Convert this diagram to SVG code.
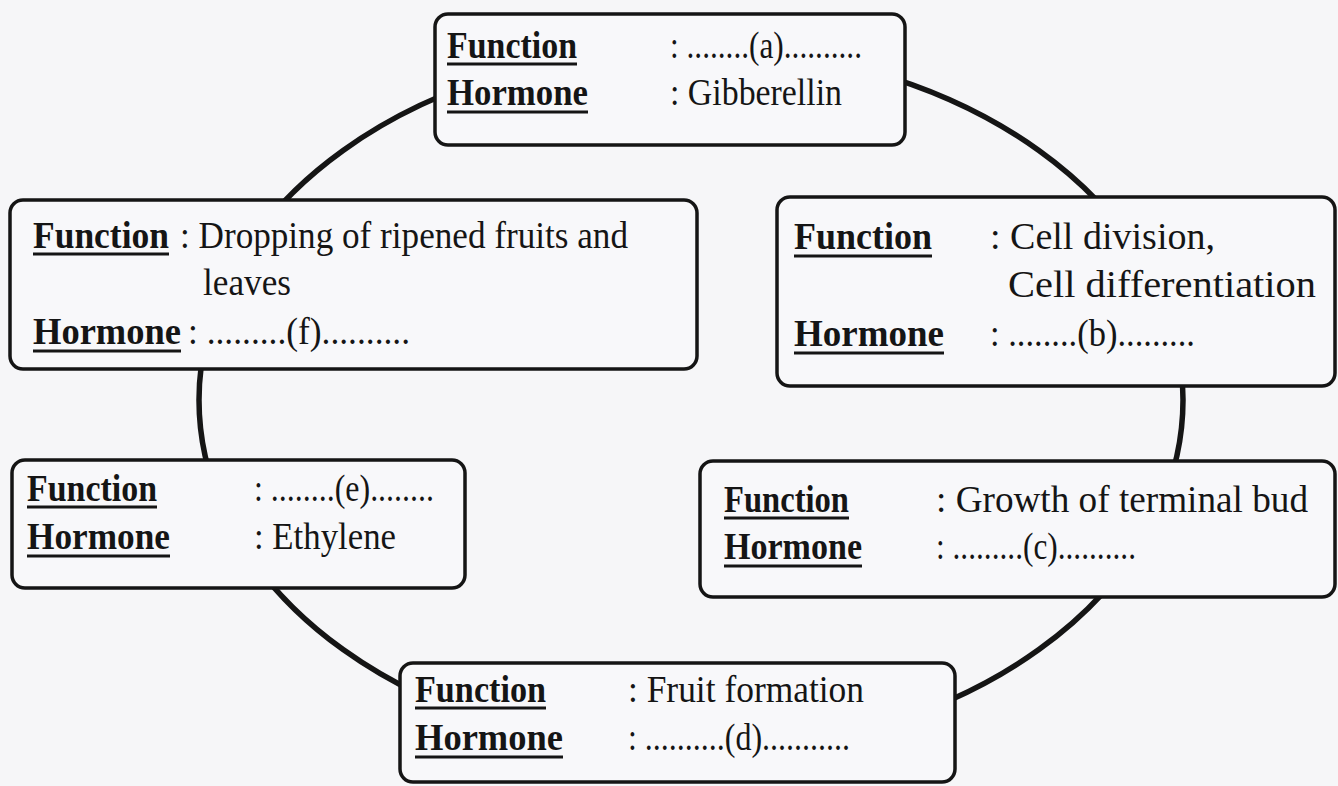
<svg xmlns="http://www.w3.org/2000/svg" width="1338" height="786" viewBox="0 0 1338 786">
<style>
.bg{fill:#f6f6f8}
.box{fill:#f8f8fa;stroke:#151515;stroke-width:3.5}
.ring{fill:none;stroke:#151515;stroke-width:5.5}
.ul{stroke:#151515;stroke-width:3}
text{font-family:"Liberation Serif","Times New Roman",serif;font-size:37px;fill:#151515}
.lbl{font-weight:bold}
</style>
<rect class="bg" x="0" y="0" width="1338" height="786"/>
<g id="connectors">
<ellipse class="ring" cx="691" cy="400" rx="492" ry="353"/>
</g>
<g id="node-a">
<rect class="box" x="435" y="14" width="470" height="131" rx="13"/>
<text class="lbl" x="447" y="58" textLength="130" lengthAdjust="spacingAndGlyphs">Function</text>
<line class="ul" x1="447" y1="64" x2="577" y2="64"/>
<text class="lbl" x="447" y="105" textLength="141" lengthAdjust="spacingAndGlyphs">Hormone</text>
<line class="ul" x1="447" y1="112" x2="588" y2="112"/>
<text x="670" y="58" textLength="192" lengthAdjust="spacingAndGlyphs">: ........(a)..........</text>
<text x="670" y="105" textLength="172" lengthAdjust="spacingAndGlyphs">: Gibberellin</text>
</g>
<g id="node-b">
<rect class="box" x="777" y="197" width="558" height="189" rx="13"/>
<text class="lbl" x="794" y="249" textLength="138" lengthAdjust="spacingAndGlyphs">Function</text>
<line class="ul" x1="794" y1="256" x2="932" y2="256"/>
<text class="lbl" x="794" y="346" textLength="150" lengthAdjust="spacingAndGlyphs">Hormone</text>
<line class="ul" x1="794" y1="353" x2="944" y2="353"/>
<text x="990" y="249" textLength="225" lengthAdjust="spacingAndGlyphs">: Cell division,</text>
<text x="1008" y="297" textLength="308" lengthAdjust="spacingAndGlyphs">Cell differentiation</text>
<text x="990" y="346" textLength="205" lengthAdjust="spacingAndGlyphs">: ........(b).........</text>
</g>
<g id="node-c">
<rect class="box" x="700" y="461" width="635" height="136" rx="13"/>
<text class="lbl" x="724" y="512" textLength="125" lengthAdjust="spacingAndGlyphs">Function</text>
<line class="ul" x1="724" y1="518" x2="849" y2="518"/>
<text class="lbl" x="724" y="559" textLength="138" lengthAdjust="spacingAndGlyphs">Hormone</text>
<line class="ul" x1="724" y1="566" x2="862" y2="566"/>
<text x="936" y="512" textLength="372" lengthAdjust="spacingAndGlyphs">: Growth of terminal bud</text>
<text x="936" y="559" textLength="200" lengthAdjust="spacingAndGlyphs">: .........(c)..........</text>
</g>
<g id="node-d">
<rect class="box" x="400" y="663" width="555" height="119" rx="13"/>
<text class="lbl" x="415" y="702" textLength="131" lengthAdjust="spacingAndGlyphs">Function</text>
<line class="ul" x1="415" y1="708" x2="546" y2="708"/>
<text class="lbl" x="415" y="750" textLength="148" lengthAdjust="spacingAndGlyphs">Hormone</text>
<line class="ul" x1="415" y1="757" x2="563" y2="757"/>
<text x="628" y="702" textLength="236" lengthAdjust="spacingAndGlyphs">: Fruit formation</text>
<text x="628" y="750" textLength="222" lengthAdjust="spacingAndGlyphs">: ..........(d)...........</text>
</g>
<g id="node-e">
<rect class="box" x="12" y="460" width="453" height="128" rx="13"/>
<text class="lbl" x="27" y="501" textLength="130" lengthAdjust="spacingAndGlyphs">Function</text>
<line class="ul" x1="27" y1="507" x2="157" y2="507"/>
<text class="lbl" x="27" y="549" textLength="143" lengthAdjust="spacingAndGlyphs">Hormone</text>
<line class="ul" x1="27" y1="556" x2="170" y2="556"/>
<text x="254" y="501" textLength="180" lengthAdjust="spacingAndGlyphs">: ........(e)........</text>
<text x="254" y="549" textLength="142" lengthAdjust="spacingAndGlyphs">: Ethylene</text>
</g>
<g id="node-f">
<rect class="box" x="10" y="200" width="687" height="169" rx="13"/>
<text class="lbl" x="33" y="248" textLength="136" lengthAdjust="spacingAndGlyphs">Function</text>
<line class="ul" x1="33" y1="254" x2="169" y2="254"/>
<text class="lbl" x="33" y="344" textLength="148" lengthAdjust="spacingAndGlyphs">Hormone</text>
<line class="ul" x1="33" y1="351" x2="181" y2="351"/>
<text x="180" y="248" textLength="448" lengthAdjust="spacingAndGlyphs">: Dropping of ripened fruits and</text>
<text x="203" y="295" textLength="88" lengthAdjust="spacingAndGlyphs">leaves</text>
<text x="188" y="344" textLength="222" lengthAdjust="spacingAndGlyphs">: .........(f)..........</text>
</g>
</svg>
